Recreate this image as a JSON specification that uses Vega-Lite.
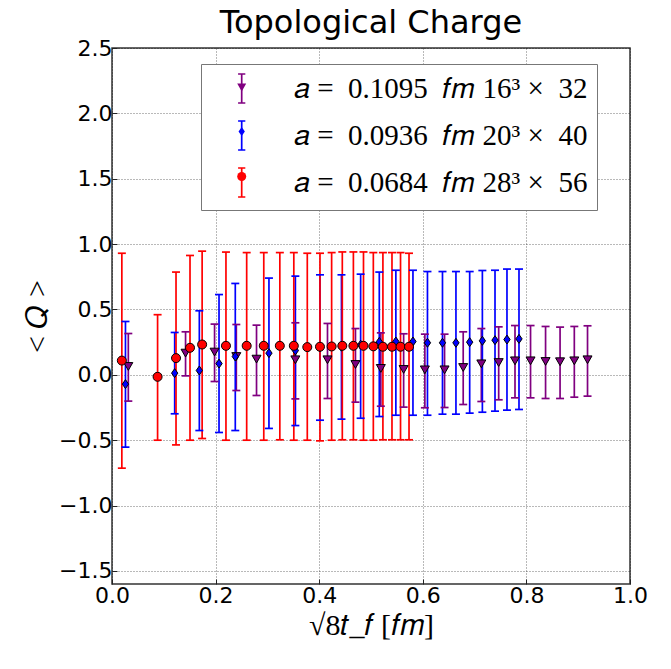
{
  "$schema": "https://vega.github.io/schema/vega-lite/v6.json",
  "width": 518,
  "height": 536,
  "autosize": {"type": "none"},
  "padding": {"left": 112, "top": 48, "right": 41, "bottom": 85},
  "background": "white",
  "title": {"text": "Topological Charge", "font": "DejaVu Sans", "fontSize": 32, "fontWeight": "normal", "color": "black", "anchor": "middle", "offset": -3},
  "config": {
    "view": {"stroke": "#333", "strokeWidth": 1.5},
    "axis": {"grid": true, "gridColor": "#000", "gridDash": [1, 2], "gridOpacity": 0.55, "gridWidth": 1, "domain": false, "ticks": true, "tickSize": -5, "tickColor": "#222", "tickWidth": 1, "labelFont": "DejaVu Sans", "labelFontSize": 22, "labelColor": "black", "labelFlush": false, "labelOverlap": false, "titleFont": "Liberation Serif", "titleFontSize": 30, "titleFontWeight": "normal", "titleColor": "black"}
  },
  "data": {"values": [
    {"g": "P", "x": 0.0315, "y": 0.064, "lo": -0.201, "hi": 0.316},
    {"g": "P", "x": 0.142, "y": 0.166, "lo": -0.008, "hi": 0.329},
    {"g": "P", "x": 0.198, "y": 0.174, "lo": -0.051, "hi": 0.388},
    {"g": "P", "x": 0.240, "y": 0.140, "lo": -0.120, "hi": 0.385},
    {"g": "P", "x": 0.279, "y": 0.120, "lo": -0.158, "hi": 0.380},
    {"g": "P", "x": 0.354, "y": 0.115, "lo": -0.184, "hi": 0.398},
    {"g": "P", "x": 0.416, "y": 0.115, "lo": -0.181, "hi": 0.393},
    {"g": "P", "x": 0.470, "y": 0.079, "lo": -0.209, "hi": 0.354},
    {"g": "P", "x": 0.519, "y": 0.049, "lo": -0.240, "hi": 0.321},
    {"g": "P", "x": 0.563, "y": 0.041, "lo": -0.247, "hi": 0.314},
    {"g": "P", "x": 0.604, "y": 0.038, "lo": -0.252, "hi": 0.311},
    {"g": "P", "x": 0.642, "y": 0.038, "lo": -0.250, "hi": 0.311},
    {"g": "P", "x": 0.678, "y": 0.056, "lo": -0.227, "hi": 0.329},
    {"g": "P", "x": 0.713, "y": 0.084, "lo": -0.204, "hi": 0.354},
    {"g": "P", "x": 0.7465, "y": 0.094, "lo": -0.191, "hi": 0.367},
    {"g": "P", "x": 0.778, "y": 0.107, "lo": -0.176, "hi": 0.377},
    {"g": "P", "x": 0.808, "y": 0.107, "lo": -0.176, "hi": 0.377},
    {"g": "P", "x": 0.837, "y": 0.102, "lo": -0.181, "hi": 0.370},
    {"g": "P", "x": 0.865, "y": 0.100, "lo": -0.181, "hi": 0.365},
    {"g": "P", "x": 0.8925, "y": 0.107, "lo": -0.171, "hi": 0.370},
    {"g": "P", "x": 0.918, "y": 0.115, "lo": -0.163, "hi": 0.375},
    {"g": "B", "x": 0.026, "y": -0.071, "lo": -0.553, "hi": 0.408},
    {"g": "B", "x": 0.121, "y": 0.013, "lo": -0.298, "hi": 0.324},
    {"g": "B", "x": 0.1686, "y": 0.033, "lo": -0.426, "hi": 0.490},
    {"g": "B", "x": 0.2066, "y": 0.086, "lo": -0.441, "hi": 0.614},
    {"g": "B", "x": 0.238, "y": 0.140, "lo": -0.426, "hi": 0.699},
    {"g": "B", "x": 0.303, "y": 0.166, "lo": -0.410, "hi": 0.740},
    {"g": "B", "x": 0.354, "y": 0.186, "lo": -0.388, "hi": 0.755},
    {"g": "B", "x": 0.4015, "y": 0.210, "lo": -0.347, "hi": 0.765},
    {"g": "B", "x": 0.443, "y": 0.215, "lo": -0.339, "hi": 0.765},
    {"g": "B", "x": 0.480, "y": 0.230, "lo": -0.332, "hi": 0.770},
    {"g": "B", "x": 0.516, "y": 0.252, "lo": -0.319, "hi": 0.786},
    {"g": "B", "x": 0.548, "y": 0.255, "lo": -0.309, "hi": 0.800},
    {"g": "B", "x": 0.581, "y": 0.255, "lo": -0.309, "hi": 0.800},
    {"g": "B", "x": 0.609, "y": 0.245, "lo": -0.309, "hi": 0.790},
    {"g": "B", "x": 0.638, "y": 0.245, "lo": -0.301, "hi": 0.790},
    {"g": "B", "x": 0.664, "y": 0.245, "lo": -0.301, "hi": 0.790},
    {"g": "B", "x": 0.6905, "y": 0.250, "lo": -0.293, "hi": 0.790},
    {"g": "B", "x": 0.715, "y": 0.260, "lo": -0.286, "hi": 0.798},
    {"g": "B", "x": 0.7394, "y": 0.265, "lo": -0.278, "hi": 0.800},
    {"g": "B", "x": 0.7625, "y": 0.270, "lo": -0.270, "hi": 0.809},
    {"g": "B", "x": 0.7857, "y": 0.275, "lo": -0.265, "hi": 0.809},
    {"g": "R", "x": 0.019, "y": 0.109, "lo": -0.714, "hi": 0.930},
    {"g": "R", "x": 0.088, "y": -0.015, "lo": -0.500, "hi": 0.460},
    {"g": "R", "x": 0.1236, "y": 0.128, "lo": -0.536, "hi": 0.786},
    {"g": "R", "x": 0.1506, "y": 0.207, "lo": -0.500, "hi": 0.913},
    {"g": "R", "x": 0.174, "y": 0.232, "lo": -0.487, "hi": 0.946},
    {"g": "R", "x": 0.220, "y": 0.222, "lo": -0.500, "hi": 0.939},
    {"g": "R", "x": 0.260, "y": 0.222, "lo": -0.500, "hi": 0.935},
    {"g": "R", "x": 0.293, "y": 0.222, "lo": -0.500, "hi": 0.935},
    {"g": "R", "x": 0.324, "y": 0.222, "lo": -0.497, "hi": 0.935},
    {"g": "R", "x": 0.351, "y": 0.222, "lo": -0.500, "hi": 0.935},
    {"g": "R", "x": 0.377, "y": 0.212, "lo": -0.500, "hi": 0.930},
    {"g": "R", "x": 0.4015, "y": 0.215, "lo": -0.505, "hi": 0.930},
    {"g": "R", "x": 0.424, "y": 0.217, "lo": -0.500, "hi": 0.935},
    {"g": "R", "x": 0.4446, "y": 0.222, "lo": -0.497, "hi": 0.940},
    {"g": "R", "x": 0.466, "y": 0.222, "lo": -0.497, "hi": 0.940},
    {"g": "R", "x": 0.4855, "y": 0.222, "lo": -0.500, "hi": 0.940},
    {"g": "R", "x": 0.5045, "y": 0.218, "lo": -0.500, "hi": 0.935},
    {"g": "R", "x": 0.523, "y": 0.215, "lo": -0.497, "hi": 0.935},
    {"g": "R", "x": 0.5405, "y": 0.215, "lo": -0.497, "hi": 0.935},
    {"g": "R", "x": 0.557, "y": 0.215, "lo": -0.497, "hi": 0.935},
    {"g": "R", "x": 0.5734, "y": 0.215, "lo": -0.497, "hi": 0.930}
  ]},
  "encoding": {
    "x": {"field": "x", "type": "quantitative", "scale": {"domain": [0, 1], "nice": false, "zero": false},
      "axis": {"values": [0, 0.2, 0.4, 0.6, 0.8, 1.0], "format": ".1f", "labelPadding": 6, "title": "√8𝑡_𝑓 [𝑓𝑚]", "titlePadding": 4}}
  },
  "layer": [
    {
      "mark": {"type": "rule", "strokeWidth": 1.7},
      "encoding": {
        "y": {"field": "lo", "type": "quantitative", "scale": {"domain": [-1.6, 2.5], "nice": false, "zero": false},
          "axis": {"values": [-1.5, -1.0, -0.5, 0, 0.5, 1.0, 1.5, 2.0, 2.5], "format": ".1f", "labelPadding": 5, "title": "< 𝑄 >", "titlePadding": 6}},
        "y2": {"field": "hi"},
        "stroke": {"field": "g", "type": "nominal", "scale": {"domain": ["P", "B", "R", "Z"], "range": ["#800080", "#0000ff", "#ff0000", "#000000"]},
          "legend": {"orient": "none", "legendX": 89, "legendY": 16, "title": null, "values": ["P", "B", "R"], "symbolType": "M0,-1V1M-0.25,-1H0.25M-0.25,1H0.25", "symbolSize": 841, "symbolStrokeWidth": 1.7, "symbolFillColor": "transparent", "labelFont": "Liberation Serif", "labelFontSize": 29, "labelColor": "black", "labelLimit": 0, "labelExpr": "datum.label == 'P' ? '𝑎 =\u20020.1095\u2002𝑓𝑚 16³ ×\u200232\u2002' : datum.label == 'B' ? '𝑎 =\u20020.0936\u2002𝑓𝑚 20³ ×\u200240\u2002' : '𝑎 =\u20020.0684\u2002𝑓𝑚 28³ ×\u200256\u2002'", "strokeColor": "#777", "fillColor": "white", "padding": 9, "rowPadding": 10, "labelOffset": 36.8, "symbolOffset": 16.2, "zindex": 1}}
      }
    },
    {
      "mark": {"type": "rule", "strokeWidth": 1.7, "xOffset": -4, "x2Offset": 4},
      "encoding": {
        "x2": {"field": "x"},
        "y": {"field": "lo", "type": "quantitative"},
        "stroke": {"field": "g", "type": "nominal"}
      }
    },
    {
      "mark": {"type": "rule", "strokeWidth": 1.7, "xOffset": -4, "x2Offset": 4},
      "encoding": {
        "x2": {"field": "x"},
        "y": {"field": "hi", "type": "quantitative"},
        "stroke": {"field": "g", "type": "nominal"}
      }
    },
    {
      "mark": {"type": "point", "filled": true, "stroke": "black", "strokeWidth": 1, "size": 81, "opacity": 1},
      "encoding": {
        "y": {"field": "y", "type": "quantitative"},
        "fill": {"field": "g", "type": "nominal", "scale": {"domain": ["P", "B", "R"], "range": ["#800080", "#0000ff", "#ff0000"]},
          "legend": {"orient": "none", "legendX": 89, "legendY": 25.5, "title": null, "symbolSize": 81, "symbolStrokeColor": "black", "symbolStrokeWidth": 1, "labelExpr": "''", "labelFontSize": 1, "padding": 9, "rowPadding": 31, "symbolOffset": 26.7, "zindex": 2}},
        "shape": {"field": "g", "type": "nominal", "scale": {"domain": ["P", "B", "R"], "range": ["triangle-down", "M0,-1L0.7,0L0,1L-0.7,0Z", "circle"]},
          "legend": {"orient": "none", "legendX": 89, "legendY": 25.5, "title": null, "symbolSize": 81, "symbolStrokeColor": "black", "symbolStrokeWidth": 1, "labelExpr": "''", "labelFontSize": 1, "padding": 9, "rowPadding": 31, "symbolOffset": 26.7, "zindex": 2}}
      }
    }
  ]
}
